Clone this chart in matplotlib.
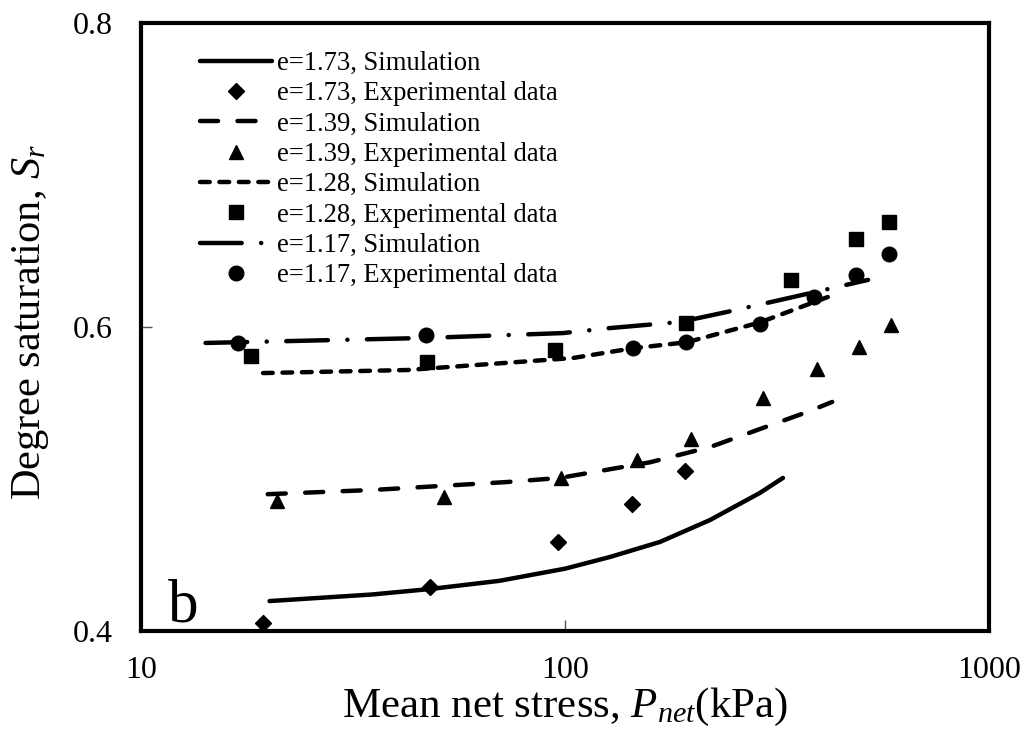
import numpy as np
import matplotlib
matplotlib.use("Agg")
import matplotlib.pyplot as plt

plt.rcParams['font.family'] = ['Liberation Serif', 'DejaVu Serif']
plt.rcParams['mathtext.fontset'] = 'custom'
plt.rcParams['mathtext.rm'] = 'Liberation Serif'
plt.rcParams['mathtext.it'] = 'Liberation Serif:italic'
plt.rcParams['lines.scale_dashes'] = False

# ---------------- data ----------------
# e = 1.73
sim173_x = [20.1, 35.0, 48.0, 70.0, 100.0, 127.7, 167.5, 219.7, 288.0, 326.6]
sim173_y = [0.4197, 0.4240, 0.4276, 0.4330, 0.4410, 0.4487, 0.4586, 0.4730, 0.4908, 0.5007]
exp173_x = [19.4, 48.0, 96.2, 143.9, 191.9]
exp173_y = [0.405, 0.429, 0.4586, 0.4836, 0.505]

# e = 1.39
sim139_x = [19.9, 35.3, 72.9, 97.2, 158.7, 219.8, 293.0, 372.0, 426.7]
sim139_y = [0.490, 0.4928, 0.498, 0.5007, 0.511, 0.521, 0.5336, 0.544, 0.5507]
exp139_x = [20.9, 51.8, 97.9, 147.8, 198.2, 293.0, 392.6, 493.0, 587.6]
exp139_y = [0.4855, 0.488, 0.5007, 0.5125, 0.5263, 0.5533, 0.5724, 0.5868, 0.6013]

# e = 1.28
sim128_x = [19.4, 42.4, 104.4, 144.6, 194.0, 288.0, 428.6]
sim128_y = [0.5697, 0.5717, 0.5796, 0.586, 0.590, 0.603, 0.621]
exp128_x = [18.2, 47.3, 94.6, 192.8, 341.0, 485.0, 581.0]
exp128_y = [0.581, 0.577, 0.5849, 0.6026, 0.631, 0.658, 0.669]

# e = 1.17
sim117_x = [14.2, 47.0, 98.9, 127.7, 186.6, 241.0, 345.0, 518.6]
sim117_y = [0.5895, 0.5928, 0.596, 0.5993, 0.6033, 0.6099, 0.6197, 0.631]
exp117_x = [16.9, 47.0, 144.6, 192.8, 288.5, 386.0, 485.0, 581.0]
exp117_y = [0.5895, 0.5947, 0.586, 0.590, 0.602, 0.6197, 0.634, 0.648]

xticks = [10, 100, 1000]
xticklabels = ['10', '100', '1000']
yticks = [0.4, 0.6, 0.8]
yticklabels = ['0.4', '0.6', '0.8']

# ---------------- figure ----------------
fig = plt.figure(figsize=(10.28, 7.35), dpi=100)
ax = fig.add_axes([141/1028, 1-631/735, (989-141)/1028, (631-23)/735])

lw = 3.2
ms = 10.5
ax.plot(sim173_x, sim173_y, color='black', lw=lw, solid_capstyle='round',
        label='e=1.73, Simulation')
ax.plot(exp173_x, exp173_y, ls='none', marker='D', ms=8.3, color='black',
        label='e=1.73, Experimental data')
ax.plot(sim139_x, sim139_y, color='black', lw=lw, dashes=(13, 14),
        dash_capstyle='round', label='e=1.39, Simulation')
ax.plot(exp139_x, exp139_y, ls='none', marker='^', ms=ms, color='black',
        label='e=1.39, Experimental data')
ax.plot(sim128_x, sim128_y, color='black', lw=lw, dashes=(7, 7),
        dash_capstyle='round', label='e=1.28, Simulation')
ax.plot(exp128_x, exp128_y, ls='none', marker='s', ms=ms, color='black',
        label='e=1.28, Experimental data')
ax.plot(sim117_x, sim117_y, color='black', lw=lw, dashes=(30, 14, 0.1, 14),
        dash_capstyle='round', label='e=1.17, Simulation')
ax.plot(exp117_x, exp117_y, ls='none', marker='o', ms=ms, color='black',
        label='e=1.17, Experimental data')

ax.set_xscale('log')
ax.set_xlim(10, 1000)
ax.set_ylim(0.4, 0.8)
ax.set_xticks(xticks)
ax.set_xticklabels(xticklabels)
ax.set_yticks(yticks)
ax.set_yticklabels(yticklabels)
ax.minorticks_off()
ax.tick_params(axis='both', which='major', direction='in', length=8, width=1,
               labelsize=23, color='#555555')
ax.tick_params(axis='y', pad=20)
ax.tick_params(axis='x', pad=18)

for sp in ax.spines.values():
    sp.set_linewidth(3)
    sp.set_color('black')

ax.set_xlabel('Mean net stress, $P_{net}$(kPa)', fontsize=31, labelpad=1)
ax.set_ylabel('Degree saturation, $S_r$', fontsize=30.5)
ax.yaxis.set_label_coords(-0.106, 0.509)

ax.text(0.032, 0.015, 'b', fontsize=44, ha='left', va='baseline',
        transform=ax.transAxes)

leg = ax.legend(loc='upper left', bbox_to_anchor=(0.0696, 0.954), frameon=False,
                fontsize=19.2, handlelength=2.7, handletextpad=0.2,
                labelspacing=0.2, borderaxespad=0, borderpad=0)

fig.savefig('out.png', dpi=100)
